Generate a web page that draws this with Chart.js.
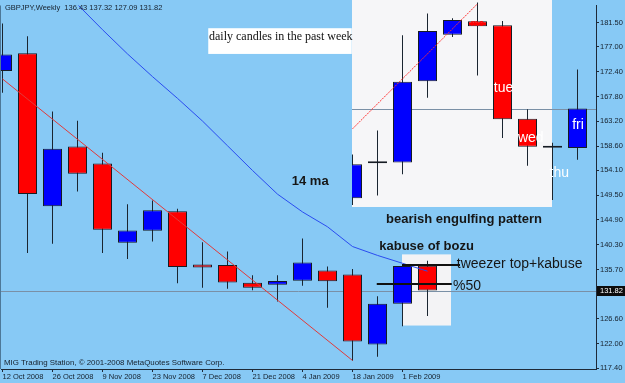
<!DOCTYPE html>
<html>
<head>
<meta charset="utf-8">
<script src="https://cdn.jsdelivr.net/npm/chart.js@4.4.1/dist/chart.umd.min.js"></script>
<style>
html, body { margin: 0; padding: 0; background: #87c9f5; }
canvas { display: block; }
</style>
</head>
<body>
<canvas id="chart" width="625" height="383"></canvas>
<script>
// weekly candles, one per week starting 12 Oct 2008
const symbol = 'GBPJPY';
const weekLabels = ['12 Oct 2008', '19 Oct 2008', '26 Oct 2008', '2 Nov 2008', '9 Nov 2008', '16 Nov 2008',
	'23 Nov 2008', '30 Nov 2008', '7 Dec 2008', '14 Dec 2008', '21 Dec 2008', '28 Dec 2008',
	'4 Jan 2009', '11 Jan 2009', '18 Jan 2009', '25 Jan 2009', '1 Feb 2009', '8 Feb 2009'];
const weekOpen  = [172.53, 175.82, 147.44, 158.53, 155.37, 140.66, 142.91, 146.52, 136.63, 136.56, 133.26, 132.89, 133.63, 135.53, 134.80, 121.80, 129.36, 136.43];
const weekHigh  = [181.32, 178.99, 165.02, 163.30, 157.38, 147.80, 148.53, 147.00, 140.77, 139.07, 134.67, 134.67, 141.45, 136.26, 135.82, 130.77, 136.69, 137.32];
const weekLow   = [168.50, 138.76, 140.48, 150.18, 138.76, 137.66, 140.90, 133.15, 132.35, 132.16, 131.87, 129.78, 132.71, 128.63, 118.79, 119.52, 125.20, 127.09];
const weekClose = [175.57, 149.74, 158.11, 153.48, 143.10, 142.97, 146.70, 136.19, 136.08, 133.33, 132.35, 133.57, 137.00, 133.52, 122.35, 129.36, 136.37, 131.82];
const ma14      = [null, null, 190.50, 184.86, 180.18, 175.69, 171.48, 167.45, 163.24, 158.66, 154.08, 149.69, 146.39, 143.64, 139.98, 138.33, 136.87, 135.40];
const trendLine = [{ x: 0, y: 171.05 }, { x: 14, y: 118.85 }];

// daily candles of the last two weeks (inset), own price scale
const dayStart = 14;
const dayOpen  = [127.19, 128.99, 129.03, 133.23, 135.63, 136.33, 136.12, 131.29, 129.79, 129.78];
const dayHigh  = [129.45, 130.68, 135.61, 136.73, 136.48, 137.32, 136.34, 131.78, 130.05, 133.84];
const dayLow   = [126.37, 127.33, 128.43, 132.38, 135.52, 133.53, 130.30, 128.86, 127.09, 129.17];
const dayClose = [128.94, 128.99, 133.20, 135.83, 136.39, 136.07, 131.27, 129.85, 129.79, 131.82];
const dayTrend = [{ x: 14, y: 130.77 }, { x: 19, y: 137.23 }];

// axis ticks
const labelIdx = [0, 2, 4, 6, 8, 10, 12, 14, 16];
const priceTicks = [117.40, 122.00, 126.60, 131.10, 135.70, 140.30, 144.90, 149.50, 154.10, 158.60, 163.20, 167.80, 172.40, 177.00, 181.50];

// drawn objects (bar index / price)
const boxes = [
	{ x1: 13.98, x2: 21.98, y1: 186, y2: 147.31, fill: '#f6f6f8' },
	{ x1: 15.98, x2: 17.94, y1: 138.52, y2: 125.33, fill: '#f3f3f5' },
];
const captionBox = { x1: 8.23, x2: 13.97, y1: 180.46, y2: 175.69, text: 'daily candles in the past week', tx: 8.26, ty: 178.84 };
const notes = [
	{ text: '14 ma', x: 11.57, y: 152.07, size: 13, bold: true },
	{ text: 'bearish engulfing pattern', x: 15.34, y: 144.98, size: 13, bold: true },
	{ text: 'kabuse of bozu', x: 15.07, y: 140.04, size: 13, bold: true },
	{ text: 'tweezer top+kabuse', x: 18.17, y: 136.69, size: 14, bold: false },
	{ text: '%50', x: 18.02, y: 132.66, size: 14, bold: false },
];
const marks = [
	{ x1: 15.98, x2: 18.30, y: 136.63 },
	{ x1: 14.97, x2: 17.97, y: 133.08 },
];
const dayTags = [
	{ text: 'mo', x: 19.0, y: 136.22, color: '#ff0000', font: 'bold 9px' },
	{ text: 'tue', x: 20.04, y: 132.86, color: '#ffffff', font: '14px' },
	{ text: 'wed', x: 21.13, y: 130.30, color: '#ffffff', font: '14px' },
	{ text: 'thu', x: 22.27, y: 128.48, color: '#ffffff', font: '14px' },
	{ text: 'fri', x: 23.02, y: 130.95, color: '#ffffff', font: '14px' },
];

const bgColor = '#87c9f5';
const upColor = '#0000ff';
const downColor = '#ff0000';
const axisColor = '#1e2a38';
const smallFont = "'Liberation Sans', sans-serif";
const sansFont = "'Liberation Sans', Arial, sans-serif";
const insetClip = { left: -351, top: 3, right: 0, bottom: -164 };

const last = weekClose.length - 1;
const title = `${symbol},Weekly  ${weekOpen[last].toFixed(2)} ${weekHigh[last].toFixed(2)} ${weekLow[last].toFixed(2)} ${weekClose[last].toFixed(2)}`;

function candleColors(open, close) {
	return open.map((o, i) => close[i] >= o ? upColor : downColor);
}

const overlay = {
	id: 'overlay',
	beforeDraw(chart) {
		const { ctx, width, height } = chart;
		ctx.save();
		ctx.fillStyle = bgColor;
		ctx.fillRect(0, 0, width, height);
		ctx.restore();
	},
	beforeDatasetsDraw(chart) {
		const { ctx, chartArea: a, scales: { x, y, yd } } = chart;
		ctx.save();
		// left frame line
		ctx.fillStyle = '#4d7898';
		ctx.fillRect(a.left - 1, a.top, 1, a.bottom - a.top);
		boxes.forEach(b => {
			const x1 = x.getPixelForValue(b.x1), x2 = x.getPixelForValue(b.x2);
			const y1 = y.getPixelForValue(b.y1), y2 = y.getPixelForValue(b.y2);
			ctx.fillStyle = b.fill;
			ctx.fillRect(x1, y1, x2 - x1, y2 - y1);
		});
		// current price lines
		ctx.strokeStyle = '#7a90a6';
		ctx.lineWidth = 1;
		const py = Math.round(y.getPixelForValue(weekClose[last])) + 0.5;
		ctx.beginPath();
		ctx.moveTo(a.left, py);
		ctx.lineTo(a.right, py);
		ctx.stroke();
		const iy = Math.round(yd.getPixelForValue(dayClose[dayClose.length - 1])) + 0.5;
		ctx.beginPath();
		ctx.moveTo(x.getPixelForValue(boxes[0].x1), iy);
		ctx.lineTo(a.right, iy);
		ctx.stroke();
		ctx.restore();
	},
	afterDatasetsDraw(chart) {
		const { ctx, scales: { x, y, yd } } = chart;
		ctx.save();
		ctx.textBaseline = 'middle';
		// day names on the inset candles
		ctx.textAlign = 'center';
		dayTags.forEach(t => {
			ctx.font = `${t.font} ${sansFont}`;
			ctx.fillStyle = t.color;
			ctx.fillText(t.text, x.getPixelForValue(t.x), yd.getPixelForValue(t.y));
		});
		// drawn horizontal lines
		ctx.fillStyle = '#111';
		marks.forEach(m => {
			const x1 = x.getPixelForValue(m.x1), x2 = x.getPixelForValue(m.x2);
			const my = Math.round(y.getPixelForValue(m.y));
			ctx.fillRect(x1, my - 1, x2 - x1, 2);
		});
		// text notes
		ctx.textAlign = 'left';
		notes.forEach(n => {
			ctx.font = `${n.bold ? 'bold ' : ''}${n.size}px ${sansFont}`;
			ctx.fillStyle = '#161616';
			ctx.fillText(n.text, x.getPixelForValue(n.x), y.getPixelForValue(n.y));
		});
		// caption box
		const c = captionBox;
		const cx1 = x.getPixelForValue(c.x1), cx2 = x.getPixelForValue(c.x2);
		const cy1 = y.getPixelForValue(c.y1), cy2 = y.getPixelForValue(c.y2);
		ctx.fillStyle = '#ffffff';
		ctx.fillRect(cx1, cy1, cx2 - cx1, cy2 - cy1);
		ctx.font = "12px 'Liberation Serif', serif";
		ctx.fillStyle = '#111';
		ctx.fillText(c.text, x.getPixelForValue(c.tx), y.getPixelForValue(c.ty));
		// header and footer
		ctx.font = `7.5px ${smallFont}`;
		ctx.fillStyle = '#15202c';
		ctx.fillText(title, 5, 8);
		ctx.font = `7.9px ${smallFont}`;
		ctx.fillText('MIG Trading Station, © 2001-2008 MetaQuotes Software Corp.', 4, 363);
		ctx.restore();
	},
	afterDraw(chart) {
		const { ctx, chartArea: a, width, scales: { y } } = chart;
		const py = Math.round(y.getPixelForValue(weekClose[last]));
		ctx.save();
		ctx.fillStyle = '#0c0c0c';
		ctx.fillRect(a.right + 1, py - 5, width - a.right - 1, 10);
		ctx.font = `7.5px ${smallFont}`;
		ctx.fillStyle = '#ffffff';
		ctx.textBaseline = 'middle';
		ctx.textAlign = 'left';
		ctx.fillText(weekClose[last].toFixed(2), a.right + 4, py);
		ctx.restore();
	}
};

const wickStyle = { type: 'bar', backgroundColor: '#1a2530', borderWidth: 0, barThickness: 1, grouped: false, inflateAmount: 0 };
const bodyStyle = { type: 'bar', borderColor: '#161c24', borderWidth: 1, borderSkipped: false, barThickness: 19, minBarLength: 2, grouped: false, inflateAmount: 0 };

new Chart(document.getElementById('chart'), {
	type: 'bar',
	data: {
		datasets: [
			{ type: 'line', data: ma14.map((v, i) => ({ x: i, y: v })), borderColor: '#2a4cf0', borderWidth: 1, pointRadius: 0, tension: 0, order: 1 },
			{ type: 'line', data: trendLine, borderColor: '#e23a3a', borderWidth: 1, pointRadius: 0, order: 1 },
			{ type: 'line', yAxisID: 'yd', data: dayTrend, borderColor: '#ff3030', borderWidth: 1, borderDash: [2, 1], pointRadius: 0, clip: insetClip, order: 1 },
			{ ...bodyStyle, data: weekOpen.map((o, i) => ({ x: i, y: [o, weekClose[i]] })), backgroundColor: candleColors(weekOpen, weekClose), order: 3 },
			{ ...wickStyle, data: weekLow.map((l, i) => ({ x: i, y: [l, weekHigh[i]] })), order: 4 },
			{ ...bodyStyle, yAxisID: 'yd', data: dayOpen.map((o, i) => ({ x: dayStart + i, y: [o, dayClose[i]] })), backgroundColor: candleColors(dayOpen, dayClose), clip: insetClip, order: 3 },
			{ ...wickStyle, yAxisID: 'yd', data: dayLow.map((l, i) => ({ x: dayStart + i, y: [l, dayHigh[i]] })), clip: insetClip, order: 4 },
		]
	},
	options: {
		responsive: false,
		animation: false,
		devicePixelRatio: 1,
		layout: { autoPadding: false, padding: { left: 1, top: 1, right: 0, bottom: 0 } },
		plugins: { legend: { display: false }, tooltip: { enabled: false } },
		scales: {
			x: {
				type: 'linear', min: -0.06, max: 23.74, position: 'bottom', offset: false,
				grid: { display: true, offset: false, drawOnChartArea: false, drawTicks: true, tickLength: 3, color: axisColor },
				border: { display: true, color: axisColor },
				ticks: { align: 'start', autoSkip: false, maxRotation: 0, padding: 0, color: '#15202c', font: { family: smallFont, size: 7.5 }, callback: v => weekLabels[v] },
				afterBuildTicks: s => { s.ticks = labelIdx.map(v => ({ value: v })); },
				afterFit: s => { s.height = 14; }
			},
			y: {
				type: 'linear', position: 'right', min: 117.27, max: 184.67,
				grid: { display: true, drawOnChartArea: false, drawTicks: true, tickLength: 3, color: axisColor },
				border: { display: true, color: axisColor },
				ticks: { padding: 1, color: '#15202c', font: { family: smallFont, size: 7.5 }, callback: v => Number(v).toFixed(2) },
				afterBuildTicks: s => { s.ticks = priceTicks.map(v => ({ value: v })); },
				afterFit: s => { s.width = 29; }
			},
			yd: { type: 'linear', display: false, min: 118.363, max: 137.142 }
		}
	},
	plugins: [overlay]
});
</script>
</body>
</html>
